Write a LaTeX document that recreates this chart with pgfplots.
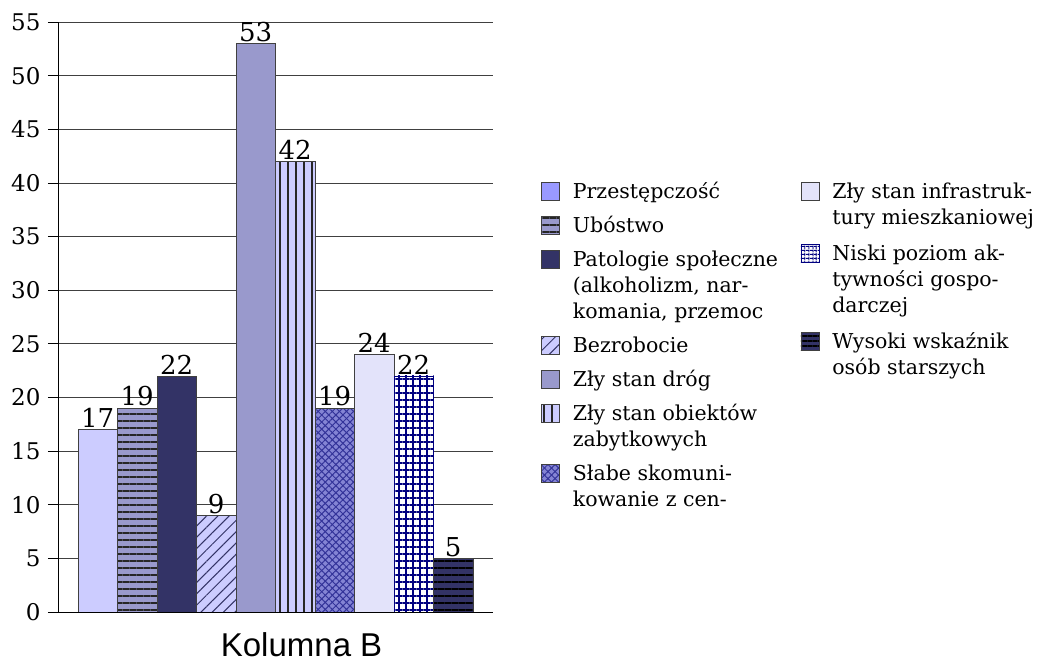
\documentclass[border=0pt]{standalone}
\usepackage{fontspec}
\setmainfont{DejaVu Serif}
\newfontfamily\lsans{Liberation Sans}
\usepackage{pgfplots}
\pgfplotsset{compat=1.18}
\usetikzlibrary{patterns.meta}
\definecolor{cA}{HTML}{CCCCFF}
\definecolor{cAleg}{HTML}{9999FF}
\definecolor{cB}{HTML}{9999CC}
\definecolor{cC}{HTML}{333366}
\definecolor{cG}{HTML}{8484D4}
\definecolor{cGl}{HTML}{333399}
\definecolor{cH}{HTML}{E3E3FA}
\definecolor{cI}{HTML}{000080}
\newcommand{\ml}[1]{\begin{tabular}[t]{@{}l@{}}#1\end{tabular}}
\pgfplotsset{
  myleg/.style={legend image code/.code={\draw[##1] (0pt,-2pt) rectangle (18pt,16pt); \path (31pt,0pt);}},
  commonaxis/.style={
    at={(0pt,0pt)}, anchor=south west,
    scale only axis, width=435pt, height=590pt,
    xmin=-1, xmax=1, ymin=0, ymax=55,
  },
  mylegstyle/.style={
    legend cell align=left,
    legend style={draw=none, fill=none, inner sep=0pt, row sep=8pt,
      font=\fontsize{20.5}{26}\selectfont,
      nodes={inner sep=0pt, text depth=},
      cells={anchor=base west}},
  },
}
\begin{document}
\begin{tikzpicture}
\useasboundingbox (-58pt,-54pt) rectangle (989pt,612pt);
\begin{axis}[
  commonaxis, mylegstyle,
  legend style={at={(1.11,0.732)}, anchor=north west},
  ybar=0pt, bar width=39.5pt,
  axis x line*=bottom, axis y line*=left,
  axis line style={black, line width=0.8pt},
  ytick={0,5,...,55}, xtick=\empty,
  ymajorgrids, grid style={black!75, line width=0.8pt},
  tick align=outside, major tick length=10pt,
  ytick style={black, line width=0.8pt},
  /pgf/number format/assume math mode=true,
  y tick label style={font=\fontsize{23}{23}\selectfont, xshift=-4pt},
  nodes near coords,
  every node near coord/.append style={font=\fontsize{26}{26}\selectfont, text=black, inner sep=1.5pt},
  xlabel={Kolumna B},
  xlabel style={font=\lsans\fontsize{33}{33}\selectfont, at={(axis description cs:0.56,0)}, anchor=north, yshift=-17pt},
  every axis plot/.append style={draw=black!75, line width=0.8pt, myleg},
]
\addplot[fill=cA, legend image code/.code={\draw[fill=cAleg, draw=black!75, line width=0.8pt] (0pt,-2pt) rectangle (18pt,16pt); \path (31pt,0pt);}] coordinates {(0,17)};
\addlegendentry{\strut Przestępczość}
\addplot[fill=cB, postaction={pattern={Lines[angle=0,distance=7pt,line width=2pt]}, pattern color=black!85}] coordinates {(0,19)};
\addlegendentry{\strut Ubóstwo}
\addplot[fill=cC] coordinates {(0,22)};
\addlegendentry{\ml{Patologie społeczne\\(alkoholizm, nar-\\komania, przemoc}}
\addplot[fill=cA, postaction={pattern={Lines[angle=45,distance=8pt,line width=1pt]}, pattern color=cC}] coordinates {(0,9)};
\addlegendentry{\strut Bezrobocie}
\addplot[fill=cB] coordinates {(0,53)};
\addlegendentry{\strut Zły stan dróg}
\addplot[fill=cA, postaction={pattern={Lines[angle=90,distance=8pt,line width=2pt]}, pattern color=black!85}] coordinates {(0,42)};
\addlegendentry{\ml{Zły stan obiektów\\zabytkowych}}
\addplot[fill=cG, postaction={pattern={Lines[angle=45,distance=5pt,line width=1pt]}, pattern color=cGl}, postaction={pattern={Lines[angle=-45,distance=5pt,line width=1pt]}, pattern color=cGl}] coordinates {(0,19)};
\addlegendentry{\ml{Słabe skomuni-\\kowanie z cen-}}
\addplot[fill=cH] coordinates {(0,24)};
\addplot[fill=white, draw=cI, postaction={pattern={Lines[angle=0,distance=7pt,line width=2pt]}, pattern color=cI}, postaction={pattern={Lines[angle=90,distance=7pt,line width=2pt]}, pattern color=cI}] coordinates {(0,22)};
\addplot[fill=cC, postaction={pattern={Lines[angle=0,distance=7pt,line width=1.5pt]}, pattern color=black}] coordinates {(0,5)};
\end{axis}
\begin{axis}[
  commonaxis, mylegstyle, hide axis,
  legend style={at={(1.706,0.732)}, anchor=north west, row sep=10pt},
]
\addlegendimage{fill=cH, draw=black!75, line width=0.8pt, myleg}
\addlegendentry{\ml{Zły stan infrastruk-\\tury mieszkaniowej}}
\addlegendimage{fill=white, draw=cI, line width=0.8pt, postaction={pattern={Lines[angle=0,distance=4pt,line width=1.2pt]}, pattern color=cI}, postaction={pattern={Lines[angle=90,distance=4pt,line width=1.2pt]}, pattern color=cI}, myleg}
\addlegendentry{\ml{Niski poziom ak-\\tywności gospo-\\darczej}}
\addlegendimage{fill=cC, draw=black!75, line width=0.8pt, postaction={pattern={Lines[angle=0,distance=5pt,line width=1.2pt]}, pattern color=black}, myleg}
\addlegendentry{\ml{Wysoki wskaźnik\\osób starszych}}
\end{axis}
\end{tikzpicture}
\end{document}
